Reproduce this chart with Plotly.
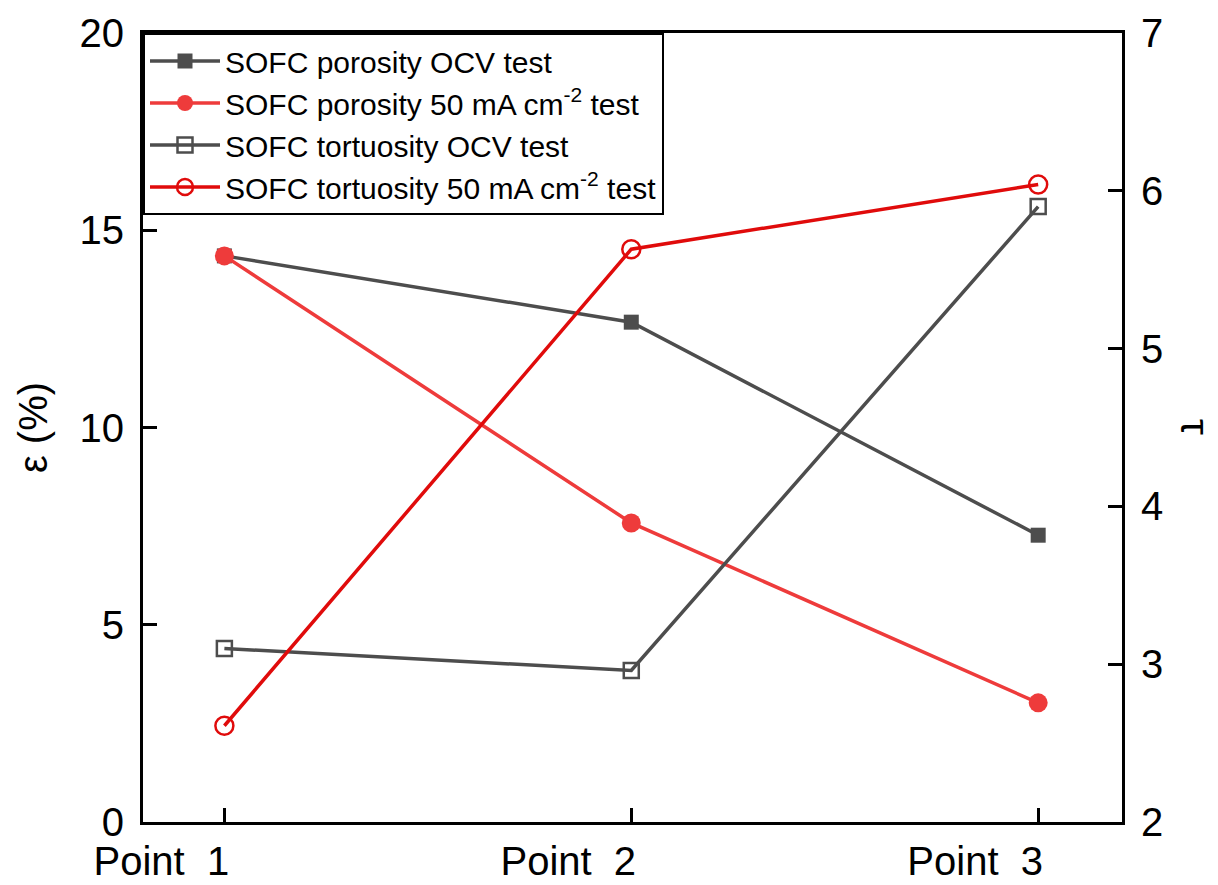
import plotly.graph_objects as go

# Measurement positions along the cell
points = [1, 2, 3]
point_labels = ["Point\u00a0\u00a01", "Point\u00a0\u00a02", "Point\u00a0\u00a03"]

# Porosity ε (%) — left axis
porosity_ocv = [14.35, 12.67, 7.27]
porosity_50 = [14.35, 7.58, 3.02]

# Tortuosity τ — right axis
tortuosity_ocv = [3.10, 2.96, 5.90]
tortuosity_50 = [2.61, 5.63, 6.04]

GREY = "#4d4d4d"
RED_LIGHT = "#ee3b3b"
RED_DARK = "#e00b0b"
FONT = "Liberation Sans, Arial, sans-serif"

fig = go.Figure()

fig.add_trace(go.Scatter(
    x=points, y=porosity_ocv, mode="lines+markers",
    name="SOFC porosity OCV test",
    line=dict(color=GREY, width=3.5),
    marker=dict(symbol="square", size=15, color=GREY),
))
fig.add_trace(go.Scatter(
    x=points, y=porosity_50, mode="lines+markers",
    name="SOFC porosity 50 mA cm<sup>-2</sup> test",
    line=dict(color=RED_LIGHT, width=3.5),
    marker=dict(symbol="circle", size=19, color=RED_LIGHT),
))
fig.add_trace(go.Scatter(
    x=points, y=tortuosity_ocv, mode="lines+markers", yaxis="y2",
    name="SOFC tortuosity OCV test",
    line=dict(color=GREY, width=3.5),
    marker=dict(symbol="square-open", size=15, color=GREY, line=dict(width=2.5)),
))
fig.add_trace(go.Scatter(
    x=points, y=tortuosity_50, mode="lines+markers", yaxis="y2",
    name="SOFC tortuosity 50 mA cm<sup>-2</sup> test",
    line=dict(color=RED_DARK, width=3.5),
    marker=dict(symbol="circle-open", size=18, color=RED_DARK, line=dict(width=2.5)),
))

axis_common = dict(
    showline=True, linecolor="black", linewidth=3,
    ticks="inside", ticklen=14, tickwidth=2.5, tickcolor="black",
    showgrid=False, zeroline=False, automargin=False,
    tickfont=dict(family=FONT, size=40, color="black"),
)

fig.update_layout(
    width=1218, height=885,
    margin=dict(l=143, r=96, t=33, b=63),
    paper_bgcolor="white", plot_bgcolor="white",
    font=dict(family=FONT, color="black"),
    showlegend=True,
    xaxis=dict(
        range=[0.8, 3.206], tickvals=points, ticktext=point_labels,
        mirror=True, ticklabelshift=-63, ticklabelstandoff=2,
        **axis_common,
    ),
    yaxis=dict(
        range=[0, 20], tickvals=[0, 5, 10, 15, 20], ticklabelstandoff=8,
        title=dict(text="ε (%)", font=dict(family=FONT, size=40), standoff=20),
        **axis_common,
    ),
    yaxis2=dict(
        range=[2, 7], tickvals=[2, 3, 4, 5, 6, 7], overlaying="y", side="right",
        ticklabelstandoff=8,
        **axis_common,
    ),
    legend=dict(
        x=0, y=1, xanchor="left", yanchor="top",
        bgcolor="white", bordercolor="black", borderwidth=2,
        font=dict(family=FONT, size=30, color="black"),
        itemwidth=70, tracegroupgap=0,
    ),
    annotations=[dict(
        text="τ", xref="paper", yref="paper", x=1.075, y=0.5,
        xanchor="center", yanchor="middle", textangle=90, showarrow=False,
        font=dict(family=FONT, size=40, color="black"),
    )],
)

fig.write_html("out.html")
